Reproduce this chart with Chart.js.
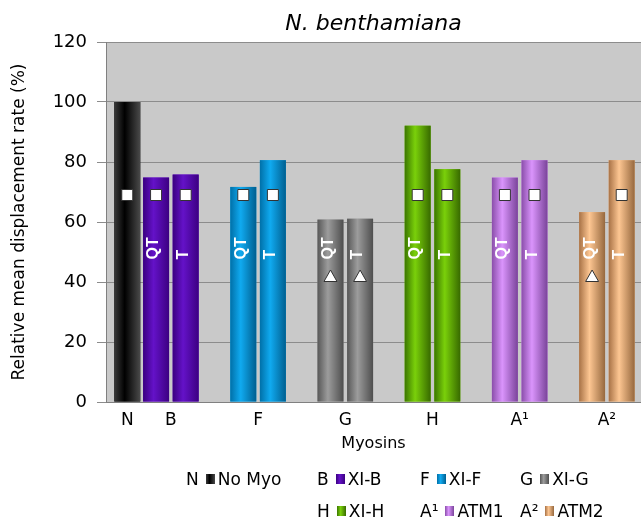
<!DOCTYPE html>
<html>
<head>
<meta charset="utf-8">
<script src="https://cdn.jsdelivr.net/npm/chart.js@4.4.1/dist/chart.umd.min.js"></script>
<style>
  body { margin: 0; background: #fff; }
  #wrap { position: relative; width: 641px; height: 519px; }
  #legend { position: absolute; left: 0; top: 0; width: 641px; height: 519px; pointer-events: none;
    font-family: "DejaVu Sans", sans-serif; font-size: 17px; color: #000; }
  .item { position: absolute; display: flex; align-items: center; white-space: nowrap; line-height: 20px; }
  .item .key { margin-right: 7px; }
  .item .box { width: 9px; height: 10px; margin-right: 3px; }
</style>
</head>
<body>
<div id="wrap">
  <canvas id="chart" width="641" height="519"></canvas>
  <div id="legend"></div>
</div>
<script>
// x axis slots (blank ones are just spacing between the groups)
const tickLabels = ["N", "B", "", "F", "", "G", "", "H", "", "A¹", "", "A²"];
const groups = ["B", "F", "G", "H", "A¹", "A²"];

const noMyoValue = 100;
const qtValues = [74.8, 71.7, 60.8, 92.1, 74.8, 63.3];
const tValues = [75.8, 80.6, 61.1, 77.6, 80.6, 80.6];

// significance markers drawn on the bars
const noMyoMark = "square";
const qtMarks = ["square", "square", "triangle", "square", "square", "triangle"];
const tMarks = ["square", "square", "triangle", "square", "square", "square"];
const markLevels = { square: 69, triangle: 42 };
const barTextLevel = 47.5;

const legendKeys = ["N", "B", "F", "G", "H", "A¹", "A²"];
const legendNames = ["No Myo", "XI-B", "XI-F", "XI-G", "XI-H", "ATM1", "ATM2"];

// left edge / highlight / right edge of each cylinder
const shades = {
  "N": ["#3a3a3a", "#000000", "#4a4a4a"],
  "B": ["#3a0080", "#6412c8", "#3c0082"],
  "F": ["#0070a8", "#10aaf0", "#005f90"],
  "G": ["#575757", "#9c9c9c", "#4e4e4e"],
  "H": ["#3b7600", "#7ad00a", "#386a00"],
  "A¹": ["#8a4eaa", "#da94fc", "#7a449a"],
  "A²": ["#a87246", "#fdc692", "#96683e"],
};

const byTick = (values) =>
  tickLabels.map((label) => {
    const g = groups.indexOf(label);
    return g >= 0 ? values[g] : null;
  });
const onlyN = (v) => tickLabels.map((label) => (label === "N" ? v : null));
const midColors = tickLabels.map((l) => (shades[l] ? shades[l][1] : "#000"));

function drawMark(ctx, type, x, y) {
  ctx.save();
  ctx.fillStyle = "#fff";
  ctx.strokeStyle = "#333";
  ctx.lineWidth = 1;
  ctx.beginPath();
  if (type === "square") {
    ctx.rect(x - 5.5, y - 5.5, 11, 11);
  } else {
    ctx.moveTo(x, y - 6);
    ctx.lineTo(x + 6.5, y + 5.5);
    ctx.lineTo(x - 6.5, y + 5.5);
    ctx.closePath();
  }
  ctx.fill();
  ctx.stroke();
  ctx.restore();
}

const plotBackground = {
  id: "plotBackground",
  beforeDraw(chart) {
    const { ctx, chartArea } = chart;
    ctx.save();
    ctx.fillStyle = "#fff";
    ctx.fillRect(0, 0, chart.width, chart.height);
    ctx.fillStyle = "#c9c9c9";
    ctx.fillRect(chartArea.left, chartArea.top, chartArea.right - chartArea.left, chartArea.bottom - chartArea.top);
    ctx.restore();
  },
};

const cylinderBars = {
  id: "cylinderBars",
  afterDatasetsDraw(chart) {
    const ctx = chart.ctx;
    const yScale = chart.scales.y;
    chart.data.datasets.forEach((ds, di) => {
      const meta = chart.getDatasetMeta(di);
      meta.data.forEach((bar, i) => {
        if (ds.data[i] == null) return;
        const { x, y, base, width } = bar.getProps(["x", "y", "base", "width"], true);
        const [c0, c1, c2] = shades[tickLabels[i]];
        const left = x - width / 2;
        const g = ctx.createLinearGradient(left, 0, left + width, 0);
        g.addColorStop(0, c0);
        g.addColorStop(0.4, c1);
        g.addColorStop(1, c2);
        ctx.save();
        ctx.fillStyle = g;
        ctx.fillRect(left, y, width, base - y);
        if (ds.barText) {
          ctx.translate(x - 2, yScale.getPixelForValue(barTextLevel));
          ctx.rotate(-Math.PI / 2);
          ctx.fillStyle = "#fff";
          ctx.font = "bold 16px 'Liberation Sans', Arial, sans-serif";
          ctx.textAlign = "left";
          ctx.textBaseline = "middle";
          ctx.fillText(ds.barText, 0, 0);
        }
        ctx.restore();
        const mark = ds.marks[i];
        if (mark) drawMark(ctx, mark, x, yScale.getPixelForValue(markLevels[mark]));
      });
    });
  },
};

const font = "DejaVu Sans";

new Chart(document.getElementById("chart"), {
  type: "bar",
  data: {
    labels: tickLabels.map((_, i) => i),
    datasets: [
      {
        label: "No Myo",
        data: onlyN(noMyoValue),
        marks: onlyN(noMyoMark),
        backgroundColor: midColors,
        skipNull: true,
        categoryPercentage: 0.596,
        barPercentage: 1,
      },
      {
        label: "QT",
        data: byTick(qtValues),
        marks: byTick(qtMarks),
        barText: "QT",
        backgroundColor: midColors,
        skipNull: true,
        categoryPercentage: 1.358,
        barPercentage: 0.878,
      },
      {
        label: "T",
        data: byTick(tValues),
        marks: byTick(tMarks),
        barText: "T",
        backgroundColor: midColors,
        skipNull: true,
        categoryPercentage: 1.358,
        barPercentage: 0.878,
      },
    ],
  },
  options: {
    responsive: false,
    animation: false,
    layout: { padding: { top: 0, right: 0, bottom: 59, left: 0 } },
    plugins: {
      legend: { display: false },
      tooltip: { enabled: false },
      title: {
        display: true,
        text: "N. benthamiana",
        fullSize: false,
        color: "#000",
        font: { family: font, size: 22, style: "italic", weight: "normal", lineHeight: 1.2 },
        padding: { top: 11, bottom: 4.6 },
      },
    },
    scales: {
      x: {
        type: "linear",
        min: -0.488,
        max: 11.782,
        offset: false,
        grid: { display: false, drawTicks: false, offset: false },
        border: { color: "#808080" },
        afterBuildTicks: (s) => {
          s.ticks = tickLabels.map((_, i) => ({ value: i }));
        },
        afterFit: (s) => {
          s.height = 58;
        },
        ticks: {
          autoSkip: false,
          maxRotation: 0,
          padding: 8,
          color: "#000",
          font: { family: font, size: 17 },
          callback: (v) => tickLabels[v],
        },
        title: {
          display: true,
          text: "Myosins",
          color: "#000",
          font: { family: font, size: 16 },
          padding: { top: 0, bottom: 7 },
        },
      },
      y: {
        min: 0,
        max: 120,
        ticks: { stepSize: 20, padding: 10, color: "#000", font: { family: font, size: 18 } },
        grid: { color: "#8c8c8c", tickLength: 9 },
        border: { color: "#808080" },
        afterFit: (s) => {
          s.width = 106;
        },
        title: {
          display: true,
          text: "Relative mean displacement rate (%)",
          color: "#000",
          font: { family: font, size: 17 },
          padding: { top: 9, bottom: 0 },
        },
      },
    },
  },
  plugins: [plotBackground, cylinderBars],
});

// legend: key letter, colour box, name
const legendCols = [186, 317, 420, 520];
const legendRows = [479, 511];
const legendEl = document.getElementById("legend");
legendKeys.forEach((key, i) => {
  const row = i < 4 ? 0 : 1;
  const col = i < 4 ? i : i - 3;
  const [c0, c1, c2] = shades[key];
  const item = document.createElement("div");
  item.className = "item";
  item.style.left = legendCols[col] + "px";
  item.style.top = legendRows[row] - 10 + "px";
  item.innerHTML =
    `<span class="key">${key}</span>` +
    `<span class="box" style="background:linear-gradient(to right, ${c0}, ${c1} 40%, ${c2})"></span>` +
    `<span>${legendNames[i]}</span>`;
  legendEl.appendChild(item);
});
</script>
</body>
</html>
